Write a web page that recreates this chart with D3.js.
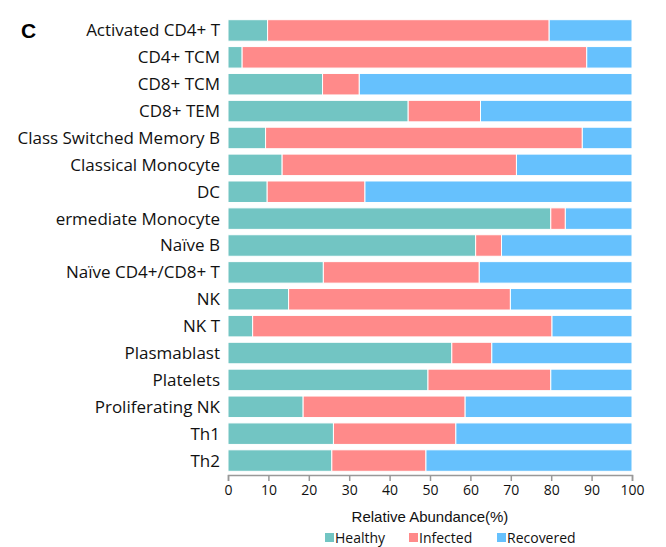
<!DOCTYPE html>
<html>
<head>
<meta charset="utf-8">
<script src="https://cdn.jsdelivr.net/npm/d3@7"></script>
<style>
  body { margin: 0; background: #fff; }
  svg { display: block; }
</style>
</head>
<body>
<div class="chart-wrapper"></div>
<script>
// cell types, top to bottom (label text as shown in the figure)
const cellTypes = [
    "Activated CD4+ T", "CD4+ TCM", "CD8+ TCM", "CD8+ TEM",
    "Class Switched Memory B", "Classical Monocyte", "DC",
    "ermediate Monocyte", "Naïve B", "Naïve CD4+/CD8+ T", "NK", "NK T",
    "Plasmablast", "Platelets", "Proliferating NK", "Th1", "Th2"
];
// relative abundance (%) per group
const healthy   = [9.8, 3.5, 23.4, 44.6, 9.3, 13.4, 9.7, 79.9, 61.3, 23.6, 15.0, 6.1, 55.4, 49.5, 18.6, 26.1, 25.7];
const infected  = [69.7, 85.3, 9.1, 17.9, 78.4, 58.0, 24.2, 3.6, 6.4, 38.6, 54.9, 74.1, 9.9, 30.4, 40.1, 30.3, 23.3];
const recovered = healthy.map((h, i) => +(100 - h - infected[i]).toFixed(1));
const groups = ["Healthy", "Infected", "Recovered"];
const groupColors = ["#72c5c3", "#ff8a8a", "#66c1fd"];
const xTicks = [0, 10, 20, 30, 40, 50, 60, 70, 80, 90, 100];

const width = 666, height = 547;
const margin = { left: 228, right: 34, top: 17, bottom: 73 };

const svg = d3.select(".chart-wrapper").append("svg")
    .attr("width", width)
    .attr("height", height);

const x = d3.scaleLinear()
    .domain([0, 100])
    .range([margin.left, width - margin.right]);

const y = d3.scaleBand()
    .domain(cellTypes)
    .range([margin.top, height - margin.bottom])
    .paddingInner(0.2)
    .paddingOuter(0.1);

// stack the three groups
const rows = cellTypes.map((c, i) => ({
    cell: c, Healthy: healthy[i], Infected: infected[i], Recovered: recovered[i]
}));
const series = d3.stack().keys(groups)(rows);
const color = d3.scaleOrdinal().domain(groups).range(groupColors);

svg.append("g")
    .selectAll("g")
    .data(series)
    .join("g")
    .attr("fill", d => color(d.key))
    .selectAll("rect")
    .data(d => d)
    .join("rect")
    .attr("x", d => x(d[0]))
    .attr("y", d => y(d.data.cell))
    .attr("width", d => x(d[1]) - x(d[0]))
    .attr("height", y.bandwidth())
    .attr("stroke", "#fff")
    .attr("stroke-width", 1);

// category labels
svg.append("g")
    .selectAll("text")
    .data(cellTypes)
    .join("text")
    .attr("x", margin.left - 8)
    .attr("y", d => y(d) + y.bandwidth() / 2)
    .attr("dy", "0.35em")
    .attr("text-anchor", "end")
    .style("font-family", "'Open Sans', sans-serif")
    .style("font-size", "17px")
    .style("fill", "#111")
    .text(d => d);

// x axis
const axisY = height - margin.bottom + 1;
const xAxis = svg.append("g")
    .attr("transform", `translate(0,${axisY})`)
    .call(d3.axisBottom(x).tickValues(xTicks).tickSize(6).tickPadding(4).tickFormat(d3.format("d")));
xAxis.select(".domain").attr("stroke", "#999").attr("stroke-width", 1.5);
xAxis.selectAll(".tick line").attr("stroke", "#999").attr("stroke-width", 1.5);
xAxis.selectAll(".tick text")
    .style("font-family", "'Open Sans', sans-serif")
    .style("font-size", "14px")
    .style("fill", "#111");

svg.append("text")
    .attr("x", (x(0) + x(100)) / 2)
    .attr("y", 522)
    .attr("text-anchor", "middle")
    .style("font-family", "'Liberation Sans', Arial, sans-serif")
    .style("font-size", "15px")
    .style("fill", "#111")
    .text("Relative Abundance(%)");

// panel letter
svg.append("text")
    .attr("x", 21)
    .attr("y", 38)
    .style("font-family", "'Liberation Sans', Arial, sans-serif")
    .style("font-size", "21px")
    .style("font-weight", "bold")
    .text("C");

// legend
const legendX = [325, 409, 497];
const legend = svg.append("g")
    .selectAll("g")
    .data(groups)
    .join("g")
    .attr("transform", (d, i) => `translate(${legendX[i]},533)`);
legend.append("rect")
    .attr("width", 9)
    .attr("height", 9)
    .attr("fill", d => color(d));
legend.append("text")
    .attr("x", 10)
    .attr("y", 5)
    .attr("dy", "0.35em")
    .style("font-family", "'Open Sans', sans-serif")
    .style("font-size", "14px")
    .style("fill", "#111")
    .text(d => d);
</script>
</body>
</html>
